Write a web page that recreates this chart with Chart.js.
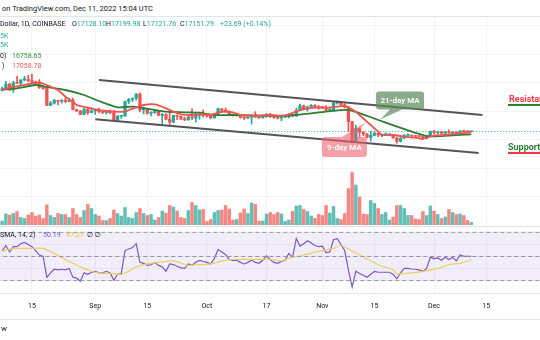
<!DOCTYPE html>
<html>
<head>
<meta charset="utf-8">
<script src="https://cdn.jsdelivr.net/npm/chart.js@4.4.1/dist/chart.umd.min.js"></script>
<style>
html, body { margin: 0; padding: 0; background: #fff; }
#wrap { position: relative; width: 540px; height: 340px; overflow: hidden; font-family: Roboto, "DejaVu Sans", sans-serif; color: #131722; }
canvas { position: absolute; left: 0; }
.t { position: absolute; white-space: nowrap; font-size: 7px; line-height: 9px; }
.hl { position: absolute; left: 0; width: 540px; height: 1px; background: #e0e3eb; }
</style>
</head>
<body>
<div id="wrap">
  <canvas id="price" width="540" height="208" style="top:17px"></canvas>
  <canvas id="rsi" width="540" height="91" style="top:227px"></canvas>
  <div class="hl" style="top:16px"></div>
  <div class="hl" style="top:226px"></div>
  <div class="hl" style="top:319px"></div>

  <div class="t" style="left:2px;top:4px;font-size:7.5px">on TradingView.com, Dec 11, 2022 15:04 UTC</div>
  <div class="t" style="left:0;top:20px">Dollar, 1D, COINBASE</div>
  <div class="t" style="left:72px;top:20px">O<span style="color:#26a69a">17128.10</span></div>
  <div class="t" style="left:106px;top:20px">H<span style="color:#26a69a">17199.98</span></div>
  <div class="t" style="left:143px;top:20px">L<span style="color:#26a69a">17121.76</span></div>
  <div class="t" style="left:180px;top:20px">C<span style="color:#26a69a">17151.79</span></div>
  <div class="t" style="left:220px;top:20px;color:#26a69a">+23.69 (+0.14%)</div>
  <div class="t" style="left:0;top:32px;color:#26a69a">5K</div>
  <div class="t" style="left:0;top:41px;color:#26a69a">5K</div>
  <div class="t" style="left:0;top:52px">0)</div>
  <div class="t" style="left:12px;top:52px;color:#388e3c">16758.65</div>
  <div class="t" style="left:2px;top:62px">)</div>
  <div class="t" style="left:12px;top:62px;color:#f05a5a">17058.78</div>

  <div class="t" style="left:509px;top:94px;font-size:9px;line-height:10px;font-weight:bold;color:#f23645">Resistance</div>
  <div style="position:absolute;left:508px;top:104px;width:32px;height:2px;background:#2e7d32"></div>
  <div class="t" style="left:508px;top:142px;font-size:9px;line-height:10px;font-weight:bold;color:#2e7d32">Support</div>
  <div style="position:absolute;left:508px;top:152px;width:32px;height:2px;background:#f23645"></div>

  <div class="t" style="left:0;top:231px">SMA, 14, 2)</div>
  <div class="t" style="left:43px;top:231px;color:#7e57c2">50.19</div>
  <div class="t" style="left:66px;top:231px;color:#e6c229">47.27</div>
  <div class="t" style="left:87px;top:231px">&#8709; &#8709;</div>
  <div class="t" style="left:1px;top:324px;font-size:8px">w</div>
</div>

<script>
// days counted from Aug 7, 2022 (index 0) to Dec 11, 2022 (index 126)
const tickDays = [8, 25, 39, 55, 71, 86, 100, 116, 130];
const tickLabels = ['15', 'Sep', '15', 'Oct', '17', 'Nov', '15', 'Dec', '15'];
const priceGrid = [8000, 12000, 16000, 20000, 24000, 28000, 32000];

const firstOpen = 22950;
const closes = [23175,23810,23150,23955,23935,24400,24440,24305,24100,23855,
  23340,23190,20830,21140,21520,21400,21530,21370,21560,20240,
  20040,19550,20290,19800,20050,20130,19950,19830,19990,19800,
  18790,19290,19320,21360,21650,21830,22400,20170,20230,19700,
  19800,20110,19420,19540,18880,18490,19410,19290,18920,18800,
  19220,19080,19410,19590,19420,19310,19060,19630,20340,20160,
  19960,19530,19420,19440,19130,19060,19160,19380,19180,19070,
  19260,19550,19330,19120,19040,19170,19200,19570,19330,20090,
  20770,20290,20600,20820,20630,20490,20480,20150,20210,21150,
  21300,20910,20600,18540,15880,17590,17070,16810,16330,16620,
  16900,16660,16680,16700,16700,16280,15780,16230,16600,16600,
  16520,16460,16440,16220,16440,17160,16980,17090,16890,17110,
  16970,17090,16840,17230,17130,17128.1,17151.79];
const highs = [23400,24200,23930,24220,24900,24450,24900,25050,25200,24250,
  24450,23600,23200,21380,21680,21550,21640,21890,21800,21850,
  20300,20100,20420,20560,20490,20210,20450,20020,20030,20170,
  20170,19450,19450,21450,21800,21860,22480,22600,20550,20380,
  19920,20180,20120,19690,19630,19930,19480,19500,19330,19180,
  19300,20350,19760,19640,20180,19480,19400,19700,20450,20370,
  20460,20050,19620,19520,19540,19240,19230,19520,19940,19230,
  19290,19690,19710,19340,19340,19240,19250,19690,19600,20420,
  21010,20870,20750,20950,20930,20820,20700,20800,20400,21300,
  21470,21360,21070,20670,18590,18070,17650,17120,16890,17180,
  17120,16990,16750,16960,16810,16760,16290,16300,16720,16800,
  16600,16540,16590,16490,16520,17230,17320,17100,17150,17150,
  17400,17100,17130,17300,17360,17230,17199.98];
const lows = [22850,23150,22880,22670,23900,23600,24300,24150,23800,23700,
  23200,23100,20800,20780,21000,20900,21150,21200,21320,20200,
  19950,19520,19520,19570,19780,19570,19750,19690,19600,19650,
  18700,18620,19000,19300,21080,21350,21550,19900,19650,19580,
  19330,19720,19400,18230,18800,18150,18380,18830,18830,18680,
  18710,18820,18480,18880,19180,19170,18930,19060,19520,19800,
  19850,19360,19320,19310,19030,18850,18970,18180,19130,18990,
  19050,19150,19110,19000,18910,18660,19110,19080,19240,19260,
  20060,20220,20020,20560,20520,20250,20330,20050,20050,20180,
  21000,20880,20450,17170,15590,15760,16380,16560,16270,15820,
  16550,16430,16400,16560,16560,16180,15480,15680,16170,16460,
  16350,16310,16400,16020,16100,16420,16860,16780,16870,16880,
  16920,16900,16700,16740,17090,17090,17121.76];
// volume in thousands
const volumes = [8,22,20,23,27,15,13,20,25,18,
  20,13,40,19,15,23,21,21,15,33,
  21,15,29,41,33,21,18,9,9,13,
  30,23,18,35,15,13,25,33,23,19,
  21,10,15,28,24,39,36,28,15,13,
  29,45,39,30,31,7,11,25,29,30,
  39,32,10,11,24,32,23,44,41,8,
  8,22,25,21,25,22,7,10,27,38,
  39,31,27,18,13,21,19,39,24,37,
  13,11,23,73,105,80,56,22,21,49,
  43,33,21,25,10,16,39,39,33,19,
  19,12,11,27,19,38,28,21,13,16,
  31,25,21,22,19,9,5];

// moving averages (day, price)
const ma21Days = [0,4,9,12,17,22,26,31,35,40,44,49,53,57,62,71,77,83,87,93,103,114,120,126];
const ma21Vals = [23011,23221,23684,23404,22982,22281,21439,20554,20639,20274,19937,19853,19797,19474,19474,19376,19376,19712,19937,20180,18400,16526,16597,16759];
const ma9Days = [0,2,5,8,10,12,15,17,19,20,23,25,28,30,33,34,36,38,41,44,46,48,51,54,56,59,62,64,68,72,75,77,80,84,87,90,92,93,95,97,99,101,102,105,108,111,113,116,119,126];
const ma9Vals = [22982,23305,23586,23923,24063,23684,22982,22042,21340,20877,20498,20274,20035,19937,19937,20175,20498,20877,20975,20414,19937,19572,19474,19572,19474,19937,19853,19474,19376,19474,19376,19572,20175,20498,20498,20639,20779,20498,19937,19011,18070,17130,16667,16667,16428,16288,16150,16600,16667,17050];

// channel lines
const chanTopDays = [26, 129], chanTopVals = [24386, 19474];
const chanBotDays = [25, 128], chanBotVals = [18870, 14140];
const lastPrice = 17151.79;

const rsi = [54.9,59.1,53.7,58.1,58.1,60.6,61.6,59.9,58.1,54.9,
  51.2,50,32.7,36.4,39.4,38.9,39.4,38.9,40.1,32.7,
  32,29.5,36.4,35.2,36.9,37.7,36.4,36.4,37.7,36.4,
  30.2,35.2,35.9,54.9,56.2,57.4,60.6,45.1,44.3,42.6,
  43.1,45.1,42.6,41.4,37.7,43.8,43.3,41.9,40.6,40.1,
  43.8,42.6,45.1,46.8,45.8,45.1,43.8,48.3,55.7,53.7,
  51.7,47.5,46.8,46.8,45.1,43.8,45.1,47,45.1,44.3,
  46.8,50.5,47.5,45.1,44.3,45.8,46.8,52.5,49.3,64.8,
  58.6,60.6,63.1,61.1,59.1,58.1,58.6,53.2,53.7,64.1,
  64.8,59.9,54.9,38.9,24.6,37.7,35.9,34.4,32.7,35.2,
  37.7,36.9,36.9,36.9,36.9,35.2,31.5,36.4,40.1,40.1,
  39.6,39.4,38.9,37.7,40.1,49.3,48.3,48.8,46.8,49.3,
  47.5,49.3,46.3,51.2,50.2,50,50.19];
const rsiMaDays = [0,2,5,8,11,14,17,21,24,26,29,32,34,36,39,42,46,50,52,56,59,62,67,72,75,77,81,85,89,91,93,96,99,102,105,106,110,113,117,120,123,126];
const rsiMaVals = [54.2,56.2,56.7,56.7,56.7,52.5,47.5,41.4,37.7,36.4,35.9,35.2,37.7,41.4,43.8,45.1,46.3,42.6,43.1,43.8,46.3,47.5,47.5,47.5,46.3,48.3,51.2,54.2,56.7,59.1,56.2,51.2,46.3,41.9,38.9,35.9,36.4,37.7,40.1,43.3,44.3,47.27];

const callouts = [
  { text: '21-day MA', day: 101.5, price: 18842, dx: -4, dy: -28, w: 48, h: 18, tail: [10, 22], fill: 'rgba(96,140,92,0.72)' },
  { text: '9-day MA', day: 97.7, price: 18491, dx: -44, dy: 15, w: 45, h: 20, tail: [-24, -12], fill: 'rgba(240,98,110,0.6)' }
];

Chart.defaults.font.family = 'Roboto, "DejaVu Sans", sans-serif';
Chart.defaults.font.size = 7;
Chart.defaults.color = '#131722';

const opens = closes.map((c, i) => i ? closes[i - 1] : firstOpen);
const isUp = i => closes[i] >= opens[i];
const up = '#26a69a', down = '#ef5350';
const pts = (xs, ys) => xs.map((x, i) => ({ x: x, y: ys[i] }));
const xMin = -0.58, xMax = 144.46;

function xScale(showLabels) {
  return {
    type: 'linear', min: xMin, max: xMax, offset: false,
    afterBuildTicks: s => { s.ticks = tickDays.map(v => ({ value: v })); },
    ticks: { display: showLabels, autoSkip: false, maxRotation: 0, padding: 8,
      callback: (v, i) => tickLabels[i] },
    grid: { color: '#f0f3fa', drawTicks: false, offset: false },
    border: { display: showLabels, color: '#e0e3eb' }
  };
}

const calloutPlugin = {
  id: 'callouts',
  afterDatasetsDraw(chart) {
    const { ctx, scales: { x, y } } = chart;
    ctx.save();
    callouts.forEach(c => {
      const ax = x.getPixelForValue(c.day), ay = y.getPixelForValue(c.price);
      const bx = ax + c.dx, by = ay + c.dy;
      const ey = c.dy < 0 ? by + c.h : by;
      ctx.fillStyle = c.fill;
      ctx.beginPath();
      ctx.roundRect(bx, by, c.w, c.h, 3);
      ctx.moveTo(ax + c.tail[0], ey);
      ctx.lineTo(ax + c.tail[1], ey);
      ctx.lineTo(ax, ay);
      ctx.closePath();
      ctx.fill();
      ctx.fillStyle = '#fff';
      ctx.font = '600 8px Roboto, "DejaVu Sans", sans-serif';
      ctx.textAlign = 'center';
      ctx.textBaseline = 'middle';
      ctx.fillText(c.text, bx + c.w / 2, by + c.h / 2 + 0.5);
    });
    ctx.restore();
  }
};

const lineStyle = { type: 'line', pointRadius: 0, fill: false, yAxisID: 'y' };

new Chart(document.getElementById('price'), {
  type: 'bar',
  data: {
    datasets: [
      Object.assign({}, lineStyle, { data: pts(chanTopDays, chanTopVals), borderColor: '#555', borderWidth: 2, order: 0 }),
      Object.assign({}, lineStyle, { data: pts(chanBotDays, chanBotVals), borderColor: '#555', borderWidth: 2, order: 0 }),
      Object.assign({}, lineStyle, { data: pts(ma9Days, ma9Vals), borderColor: '#f05350', borderWidth: 1.8, tension: 0.2, order: 1 }),
      Object.assign({}, lineStyle, { data: pts(ma21Days, ma21Vals), borderColor: '#2e7d32', borderWidth: 1.8, tension: 0.2, order: 2 }),
      {
        type: 'bar', yAxisID: 'y', order: 3, grouped: false, barThickness: 2.6, minBarLength: 1,
        data: closes.map((c, i) => ({ x: i, y: [opens[i], c] })),
        backgroundColor: ctx => isUp(ctx.dataIndex) ? up : down
      },
      {
        type: 'bar', yAxisID: 'y', order: 4, grouped: false, barThickness: 1,
        data: closes.map((c, i) => ({ x: i, y: [lows[i], highs[i]] })),
        backgroundColor: ctx => isUp(ctx.dataIndex) ? up : down
      },
      Object.assign({}, lineStyle, { data: [{ x: xMin - 1, y: lastPrice }, { x: xMax + 1, y: lastPrice }],
        borderColor: up, borderWidth: 1, borderDash: [1, 2], order: 5 }),
      {
        type: 'bar', yAxisID: 'yv', order: 6, grouped: false, barThickness: 2.8,
        data: volumes.map((v, i) => ({ x: i, y: v })),
        backgroundColor: ctx => isUp(ctx.dataIndex) ? 'rgba(38,166,154,0.72)' : 'rgba(239,83,80,0.7)'
      }
    ]
  },
  options: {
    responsive: false, devicePixelRatio: 1, animation: false, events: [],
    layout: { padding: 0 },
    plugins: { legend: { display: false }, tooltip: { enabled: false } },
    scales: {
      x: xScale(false),
      y: {
        type: 'linear', min: 4035, max: 33228,
        afterBuildTicks: s => { s.ticks = priceGrid.map(v => ({ value: v })); },
        ticks: { display: false }, grid: { color: '#f0f3fa', drawTicks: false }, border: { display: false }
      },
      yv: { type: 'linear', min: 0, max: 416, display: false }
    }
  },
  plugins: [calloutPlugin]
});

new Chart(document.getElementById('rsi'), {
  type: 'line',
  data: {
    datasets: [
      { data: [{ x: xMin - 1, y: 70 }, { x: xMax + 1, y: 70 }], borderColor: '#9598a1', borderWidth: 1, borderDash: [4, 3], pointRadius: 0, fill: false },
      { data: [{ x: xMin - 1, y: 30 }, { x: xMax + 1, y: 30 }], borderColor: '#9598a1', borderWidth: 1, borderDash: [4, 3], pointRadius: 0,
        fill: '-1', backgroundColor: 'rgba(126,87,194,0.1)' },
      { data: [{ x: xMin - 1, y: 50 }, { x: xMax + 1, y: 50 }], borderColor: '#9598a1', borderWidth: 1, borderDash: [4, 3], pointRadius: 0, fill: false },
      { data: pts(rsiMaDays, rsiMaVals), borderColor: '#f6dc5a', borderWidth: 1.2, pointRadius: 0, tension: 0.3, fill: false },
      { data: rsi.map((v, i) => ({ x: i, y: v })), borderColor: '#7e57c2', borderWidth: 1.2, pointRadius: 0, fill: false }
    ]
  },
  options: {
    responsive: false, devicePixelRatio: 1, animation: false, events: [],
    layout: { padding: 0 },
    plugins: { legend: { display: false }, tooltip: { enabled: false } },
    scales: {
      x: xScale(true),
      y: {
        type: 'linear', min: 19.2, max: 74.44,
        afterBuildTicks: s => { s.ticks = [30, 40, 50, 60, 70].map(v => ({ value: v })); },
        ticks: { display: false }, grid: { color: '#f0f3fa', drawTicks: false }, border: { display: false }
      }
    }
  }
});
</script>
</body>
</html>
